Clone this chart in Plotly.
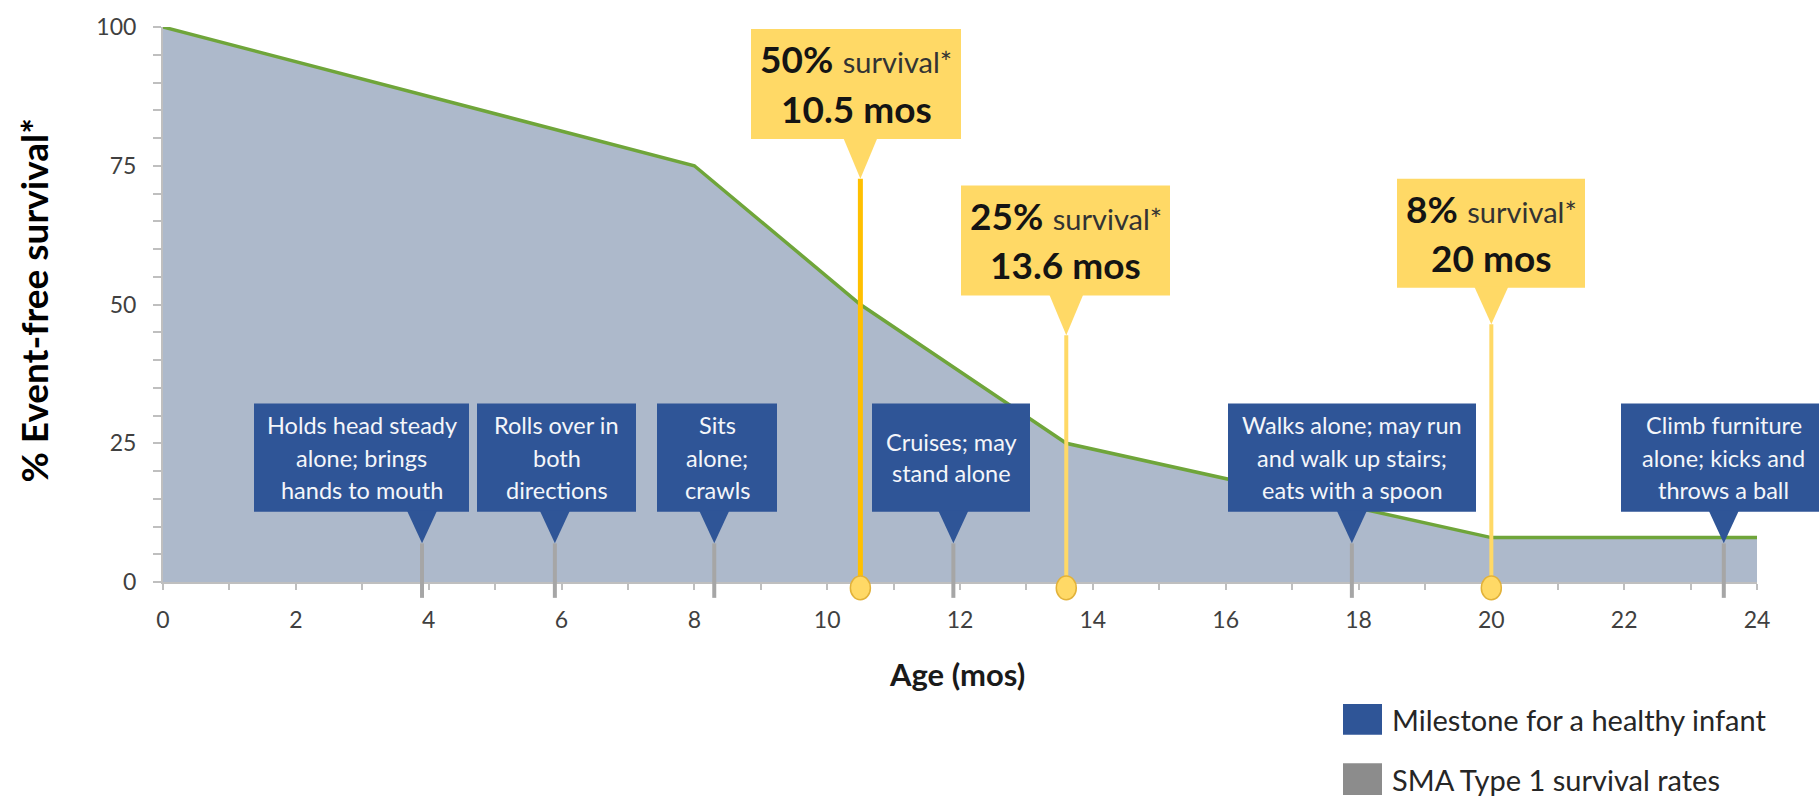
import plotly.graph_objects as go

# ---------------- data ----------------
age_months = [0, 8, 10.5, 13.6, 20, 24]
event_free_pct = [100, 75, 50, 25, 8, 8]

survival_pct_labels = ["50%", "25%", "8%"]
survival_month_labels = ["10.5 mos", "13.6 mos", "20 mos"]
survival_months = [10.5, 13.6, 20]

milestone_months = [3.9, 5.9, 8.3, 11.9, 17.9, 23.5]
milestone_texts = [
    ["Holds head steady", "alone; brings", "hands to mouth"],
    ["Rolls over in", "both", "directions"],
    ["Sits", "alone;", "crawls"],
    ["Cruises; may", "stand alone"],
    ["Walks alone; may run", "and walk up stairs;", "eats with a spoon"],
    ["Climb furniture", "alone; kicks and", "throws a ball"],
]

legend_labels = ["Milestone for a healthy infant", "SMA Type 1 survival rates"]

x_ticks = list(range(0, 25, 2))
y_ticks = [0, 25, 50, 75, 100]

# ---------------- layout geometry (pixels) ----------------
W, H = 1819, 798
ML, MR, MT, MB = 163, 62, 22, 216
PW, PH = W - ML - MR, H - MT - MB
FONT = "Lato"

BLUE = "#2F5597"
GOLD = "#FFD966"
GOLD_DARK = "#FFC000"
GREY = "#A6A6A6"


def fx(p):
    """horizontal pixel -> paper fraction"""
    return (p - ML) / PW


def fy(p):
    """vertical pixel (from top) -> paper fraction"""
    return (H - MB - p) / PH


fig = go.Figure()

fig.add_trace(go.Scatter(
    x=age_months, y=event_free_pct, mode="lines",
    line=dict(color="#6FA53A", width=3.5),
    fill="tozeroy", fillcolor="#ADB9CB",
    hoverinfo="skip", showlegend=False,
))

shapes = []
annotations = []

# milestone call-outs (blue boxes with pointer and grey pin)
box_spans = [(254, 469), (477, 636), (657, 777), (872, 1030), (1228, 1476), (1621, 1830)]
BOX_TOP, BOX_BOT, TIP = 402, 511, 543
for (x0, x1), month, lines in zip(box_spans, milestone_months, milestone_texts):
    shapes.append(dict(type="line", xref="x", x0=month, x1=month, yref="paper",
                       y0=fy(598), y1=fy(TIP), line=dict(color=GREY, width=4)))
    shapes.append(dict(type="rect", xref="paper", yref="paper",
                       x0=fx(x0), x1=fx(x1), y0=fy(BOX_BOT), y1=fy(BOX_TOP),
                       fillcolor=BLUE, line=dict(width=0)))
    shapes.append(dict(type="path", xref="x", xsizemode="pixel", xanchor=month, yref="paper",
                       path=f"M -15,{fy(BOX_BOT - 1)} L 15,{fy(BOX_BOT - 1)} L 0,{fy(TIP)} Z",
                       fillcolor=BLUE, line=dict(width=0)))
    cx = fx((x0 + min(x1, 1826)) / 2)
    step = 33 if len(lines) == 3 else 31
    first = (BOX_TOP + BOX_BOT) / 2 - step * (len(lines) - 1) / 2
    for i, t in enumerate(lines):
        annotations.append(dict(
            text=t, xref="paper", yref="paper", x=cx, y=fy(first + i * step),
            xanchor="center", yanchor="middle", showarrow=False,
            font=dict(family=FONT, size=23.5, color="#F4F6FA")))

# survival call-outs (yellow boxes with pointer and pin down to the axis)
gold_boxes = [(751, 961, 24, 135, 175), (961, 1170, 182, 293, 333), (1397, 1585, 175, 285, 322)]
pin_colors = [GOLD_DARK, GOLD, GOLD]
pin_widths = [5, 4, 4]
for (x0, x1, top, bot, tip), month, pct, mos, pc, pw in zip(
        gold_boxes, survival_months, survival_pct_labels, survival_month_labels,
        pin_colors, pin_widths):
    shapes.append(dict(type="line", xref="x", x0=month, x1=month, yref="paper",
                       y0=fy(586), y1=fy(tip), line=dict(color=pc, width=pw)))
    shapes.append(dict(type="circle", xref="x", xsizemode="pixel", xanchor=month,
                       x0=-10, x1=10, yref="paper", y0=fy(600), y1=fy(576),
                       fillcolor=GOLD, line=dict(color="#E2B23A", width=1.5)))
    shapes.append(dict(type="rect", xref="paper", yref="paper",
                       x0=fx(x0), x1=fx(x1), y0=fy(bot), y1=fy(top),
                       fillcolor=GOLD, line=dict(width=0)))
    shapes.append(dict(type="path", xref="x", xsizemode="pixel", xanchor=month, yref="paper",
                       path=f"M -17,{fy(bot - 1)} L 17,{fy(bot - 1)} L 0,{fy(tip)} Z",
                       fillcolor=GOLD, line=dict(width=0)))
    cx = fx((x0 + x1) / 2)
    annotations.append(dict(
        text=f"<b>{pct}</b> <span style='font-size:29px;color:#333333'>survival*</span>",
        xref="paper", yref="paper", x=cx, y=fy(top + 30),
        xanchor="center", yanchor="middle", showarrow=False,
        font=dict(family=FONT, size=37, color="#141414")))
    annotations.append(dict(
        text=f"<b>{mos}</b>", xref="paper", yref="paper", x=cx, y=fy(top + 80),
        xanchor="center", yanchor="middle", showarrow=False,
        font=dict(family=FONT, size=37, color="#141414")))

# axis titles
annotations.append(dict(
    text="<b>% Event-free survival*</b>", xref="paper", yref="paper",
    x=fx(34), y=fy(298), textangle=-90, xanchor="center", yanchor="middle",
    showarrow=False, font=dict(family=FONT, size=37, color="#000000")))
annotations.append(dict(
    text="<b>Age (mos)</b>", xref="paper", yref="paper",
    x=fx(957), y=fy(675), xanchor="center", yanchor="middle",
    showarrow=False, font=dict(family=FONT, size=31, color="#1A1A1A")))

# legend
legend_colors = [BLUE, "#8C8C8C"]
legend_rows = [(705, 736), (765, 797)]
for label, col, (t, b) in zip(legend_labels, legend_colors, legend_rows):
    shapes.append(dict(type="rect", xref="paper", yref="paper",
                       x0=fx(1343), x1=fx(1382), y0=fy(b), y1=fy(t),
                       fillcolor=col, line=dict(width=0)))
    annotations.append(dict(
        text=label, xref="paper", yref="paper", x=fx(1390), y=fy((t + b) / 2),
        xanchor="left", yanchor="middle", showarrow=False,
        font=dict(family=FONT, size=29, color="#262626")))

fig.update_layout(
    width=W, height=H,
    margin=dict(l=ML, r=MR, t=MT, b=MB),
    paper_bgcolor="#FFFFFF", plot_bgcolor="#FFFFFF",
    font=dict(family=FONT, color="#404040"),
    shapes=shapes, annotations=annotations,
    showlegend=False,
)
fig.update_xaxes(
    range=[0, 24], tickvals=x_ticks, ticktext=[str(v) for v in x_ticks],
    showline=True, linecolor="#BFBFBF", linewidth=2,
    ticks="outside", ticklen=6, tickwidth=2, tickcolor="#BFBFBF",
    minor=dict(dtick=1, ticks="outside", ticklen=6, tickwidth=2, tickcolor="#BFBFBF"),
    tickfont=dict(family=FONT, size=23, color="#404040"),
    showgrid=False, zeroline=False, ticklabelstandoff=10,
)
fig.update_yaxes(
    range=[0, 100], tickvals=y_ticks, ticktext=[str(v) for v in y_ticks],
    showline=True, linecolor="#BFBFBF", linewidth=2,
    ticks="outside", ticklen=8, tickwidth=2, tickcolor="#BFBFBF",
    minor=dict(dtick=5, ticks="outside", ticklen=8, tickwidth=2, tickcolor="#BFBFBF"),
    tickfont=dict(family=FONT, size=23, color="#404040"),
    showgrid=False, zeroline=False, ticklabelstandoff=12,
)

fig.write_html("out.html")
